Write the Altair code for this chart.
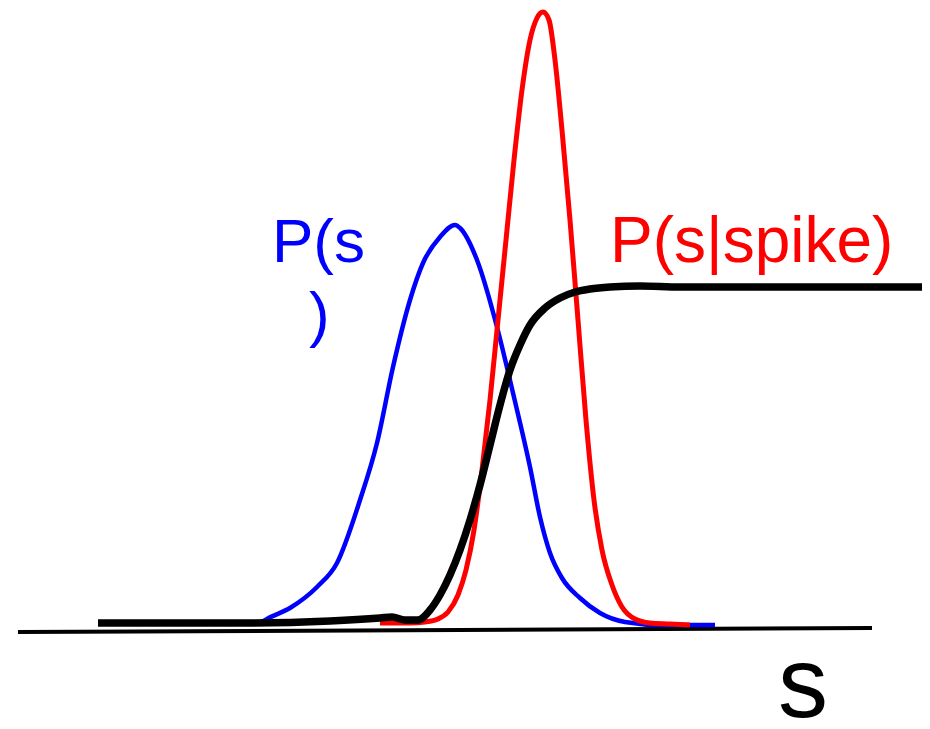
import altair as alt
import pandas as pd

# s values and heights above the baseline
blue_x = [262, 267, 290, 317, 337, 360, 377, 393, 410, 423, 440, 455, 460, 477, 497, 513, 530, 540, 550, 562, 580, 600, 625, 660, 715]
blue_y = [8, 11, 22, 43, 67, 130, 187, 263, 330, 367, 393, 405, 402, 370, 303, 237, 163, 113, 77, 52, 32, 17, 8, 5, 5]

red_x = [380, 410, 425, 438, 448, 458, 466, 474, 482, 490, 498, 506, 514, 522, 530, 537, 543, 549, 555, 562, 570, 578, 586, 594, 602, 612, 622, 635, 650, 670, 690]
red_y = [7, 7, 8, 11, 18, 35, 60, 100, 160, 230, 310, 390, 470, 540, 590, 612, 618, 610, 570, 500, 410, 310, 210, 130, 80, 45, 23, 11, 7, 6, 5]

black_x = [98, 150, 250, 330, 380, 392, 405, 418, 430, 440, 450, 460, 470, 480, 490, 500, 510, 520, 530, 545, 560, 575, 590, 610, 640, 680, 720, 926]
black_y = [7, 7, 7, 9, 12, 13, 10, 10, 20, 35, 55, 80, 110, 145, 185, 225, 260, 285, 305, 322, 332, 338, 341, 343, 344, 343, 343, 343]

axis_x = [18, 872]
axis_y = [-2, 2]

label_text = ["P(s", ")", "P(s|spike)", "s"]
label_x = [272, 309, 610, 778]
label_y = [368, 295, 368, -87]
label_color = ["#0000FF", "#0000FF", "#FF0000", "#000000"]
label_size = [62, 62, 64, 100]

xs = alt.Scale(domain=[8, 922], nice=False, zero=False)
ys = alt.Scale(domain=[630 - 721, 630 - 8], nice=False, zero=False)


def line(x, y, color, width, interp="monotone"):
    df = pd.DataFrame({"s": x, "p": y})
    return alt.Chart(df).mark_line(
        color=color, strokeWidth=width, interpolate=interp, strokeCap="butt", strokeJoin="round"
    ).encode(
        x=alt.X("s:Q", scale=xs, axis=None),
        y=alt.Y("p:Q", scale=ys, axis=None),
    )


axis = line(axis_x, axis_y, "#000000", 4, "linear")
blue = line(blue_x, blue_y, "#0000FF", 4.5)
red = line(red_x, red_y, "#FF0000", 5)
black = line(black_x, black_y, "#000000", 7.5)

texts = []
for t, x, y, c, sz in zip(label_text, label_x, label_y, label_color, label_size):
    texts.append(
        alt.Chart(pd.DataFrame({"s": [x], "p": [y], "t": [t]})).mark_text(
            align="left", baseline="alphabetic", font="Liberation Sans", fontSize=sz, color=c
        ).encode(
            x=alt.X("s:Q", scale=xs, axis=None),
            y=alt.Y("p:Q", scale=ys, axis=None),
            text="t:N",
        )
    )

chart = alt.layer(axis, blue, red, black, *texts).properties(
    width=914, height=713, padding=0,
    autosize=alt.AutoSizeParams(type="none"),
).configure(background="white").configure_view(stroke="transparent", strokeWidth=0)

chart.save("out.html", embed_options={"renderer": "svg", "actions": False})
